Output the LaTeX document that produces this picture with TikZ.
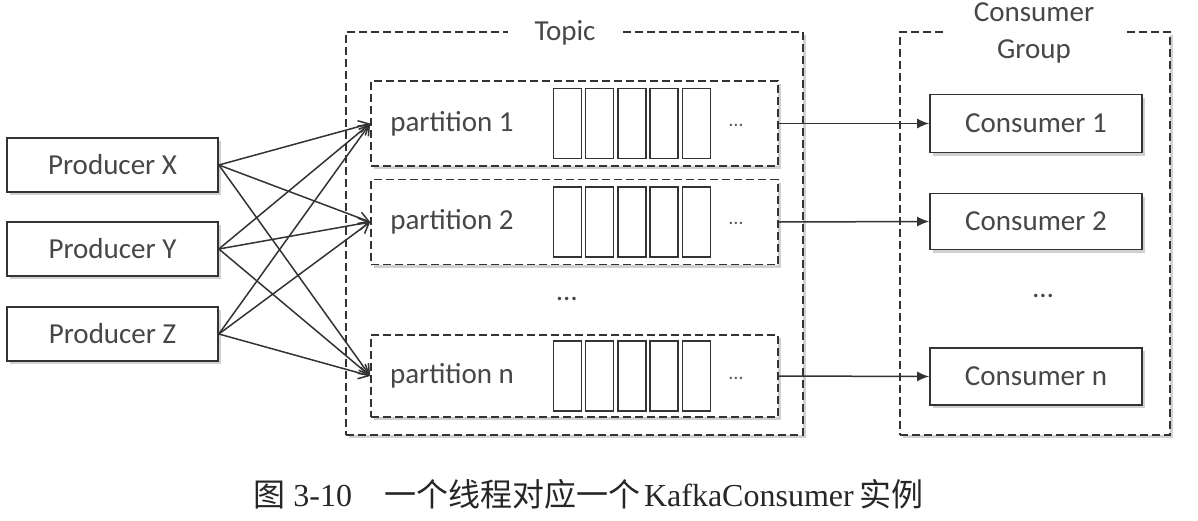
\documentclass[tikz,border=0pt]{standalone}
\usepackage{fontspec}
\setmainfont{Carlito}
\newfontfamily\cjk{Noto Sans CJK SC}
\newfontfamily\capserif{Liberation Serif}
\usetikzlibrary{arrows.meta,shadows}
\definecolor{ink}{HTML}{333333}
\tikzset{
  shad/.style={drop shadow={opacity=0.3,shadow xshift=1.6pt,shadow yshift=-1.6pt,fill=black!60}},
  lbl/.style={font=\fontsize{14.5}{17}\selectfont,text=ink!90},
  solidbox/.style={draw=ink,line width=0.85pt,fill=white,shad,lbl},
  dashbox/.style={draw=ink,line width=0.8pt,dash pattern=on 4pt off 2pt,fill=white,shad},
  cell/.style={draw=ink,line width=0.7pt,fill=white,minimum width=14pt,minimum height=35pt,inner sep=0pt},
  prodarrow/.style={draw=ink,line width=0.75pt,-{Straight Barb[length=5pt,width=6pt]}},
  consarrow/.style={draw=ink,line width=0.75pt,-{Latex[length=6pt,width=5pt]}},
}
\begin{document}
\begin{tikzpicture}[x=0.5pt,y=-0.5pt]
\useasboundingbox (0,0) rectangle (1198,520);
% outer dashed boxes
\node[dashbox,minimum width=228.5pt,minimum height=201.5pt,inner sep=0pt] (topic) at (574.5,233.5) {};
\node[dashbox,minimum width=135pt,minimum height=201.5pt,inner sep=0pt] (group) at (1035,233.5) {};
\node[lbl,fill=white,inner xsep=13.5pt,inner ysep=1pt] (topiclbl) at (565,33) {Topic};
\node[lbl,fill=white,inner xsep=15.5pt,inner ysep=0pt,align=center,font=\fontsize{14.5}{18.5}\selectfont] (grouplbl) at (1034,33) {Consumer\\Group};
% producers
\node[solidbox,minimum width=105.5pt,minimum height=27pt,inner sep=0pt] (pX) at (112.5,165) {Producer X};
\node[solidbox,minimum width=105.5pt,minimum height=27pt,inner sep=0pt] (pY) at (112.5,249) {Producer Y};
\node[solidbox,minimum width=105.5pt,minimum height=27pt,inner sep=0pt] (pZ) at (112.5,334) {Producer Z};
% partitions
\node[dashbox,minimum width=203.5pt,minimum height=42.5pt,inner sep=0pt] (t1) at (574.5,123.5) {};
\node[dashbox,minimum width=203.5pt,minimum height=42.5pt,inner sep=0pt] (t2) at (574.5,222) {};
\node[dashbox,minimum width=203.5pt,minimum height=41pt,inner sep=0pt] (tn) at (574.5,376) {};
\node[lbl] (t1l) at (452,123.5) {partition 1};
\node[lbl] (t2l) at (452,222) {partition 2};
\node[lbl] (tnl) at (452,376) {partition n};
\foreach \p/\yy in {a/123.5,b/222,c/376}{
  \foreach \i in {0,...,4}{
    \node[cell] (cell\p\i) at ({567.5+32.2*\i},\yy) {};
  }
}
\node[text=ink!80,font=\fontsize{10}{11}\selectfont] (t1d) at (736,125) {\dots};
\node[text=ink!80,font=\fontsize{10}{11}\selectfont] (t2d) at (736,223) {\dots};
\node[text=ink!80,font=\fontsize{10}{11}\selectfont] (tnd) at (736,378) {\dots};
\node[lbl] (tdots) at (567,299) {\dots};
% consumers
\node[solidbox,minimum width=106pt,minimum height=29pt,inner sep=0pt] (c1) at (1036,123.5) {Consumer 1};
\node[solidbox,minimum width=106pt,minimum height=28pt,inner sep=0pt] (c2) at (1036,221.5) {Consumer 2};
\node[solidbox,minimum width=106pt,minimum height=28.5pt,inner sep=0pt] (cn) at (1036,376.5) {Consumer n};
\node[lbl] (cdots) at (1043,296) {\dots};
% producer arrows
\foreach \s in {pX,pY,pZ}{
  \foreach \t in {t1,t2,tn}{
    \draw[prodarrow] (\s.east) -- (\t.west);
  }
}
% consumer arrows
\draw[consarrow] (t1.east) -- (c1.west);
\draw[consarrow] (t2.east) -- (c2.west);
\draw[consarrow] (tn.east) -- (cn.west);
% caption
\node[anchor=west,inner sep=0pt,font=\fontsize{16}{18}\selectfont,text=black!85] (cap) at (253,494)
  {{\cjk 图}\hspace{4pt}{\capserif 3-10}\hspace{16pt}{\cjk 一个线程对应一个}\hspace{2pt}{\capserif KafkaConsumer}\hspace{3pt}{\cjk 实例}};
\end{tikzpicture}
\end{document}
